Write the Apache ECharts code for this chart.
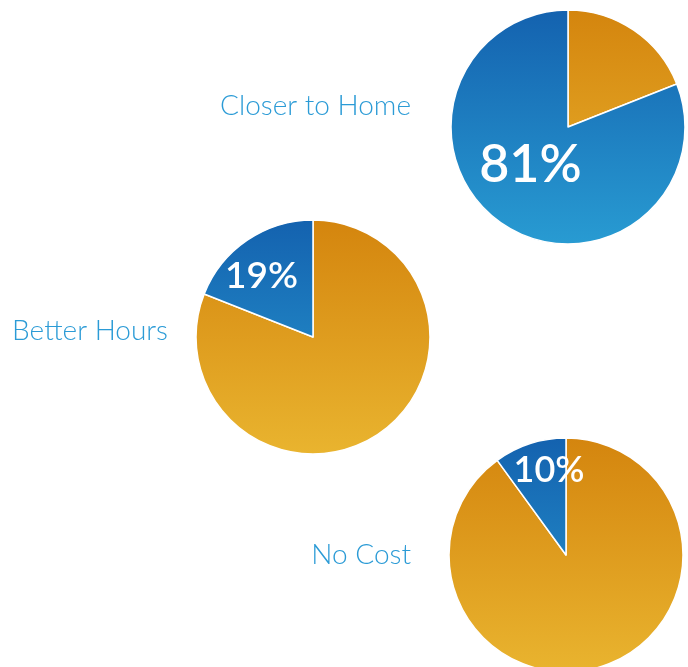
<!DOCTYPE html>
<html>
<head>
<meta charset="utf-8">
<script src="https://cdn.jsdelivr.net/npm/echarts@6/dist/echarts.min.js"></script>
<style>
html,body{margin:0;padding:0;background:#fff;}
#chart{width:688px;height:667px;}
</style>
</head>
<body>
<div id="chart"></div>
<script>
// Data
const categories = ['Closer to Home', 'Better Hours', 'No Cost'];
const bluePercent = [81, 19, 10];
const orangePercent = [19, 81, 90];

// Layout / style (not data)
const centers = [[568, 127], [313, 337], [566, 555]];
const radius = 117;
const labelOffsets = [[-3, -13], [-17, -10], [2, -26]];
const pctFontSizes = [52, 37, 36];
const nameAnchors = [[411, 106], [168, 331], [411, 555]];

function grad(top, bottom, cy) {
  return new echarts.graphic.LinearGradient(0, cy - radius, 0, cy + radius, [
    { offset: 0, color: top },
    { offset: 1, color: bottom }
  ], true);
}

const series = categories.map((name, i) => {
  const cy = centers[i][1];
  const orange = {
    name: 'Other',
    value: orangePercent[i],
    itemStyle: { color: grad('#d4850e', '#e9b42f', cy) },
    label: { show: false }
  };
  const blue = {
    name: name,
    value: bluePercent[i],
    itemStyle: { color: grad('#1462af', '#289bd2', cy) },
    label: {
      show: true,
      position: 'inside',
      formatter: '{c}%',
      offset: labelOffsets[i],
      color: '#ffffff',
      fontFamily: 'Lato',
      fontWeight: 600,
      fontSize: pctFontSizes[i]
    }
  };
  return {
    type: 'pie',
    name: name,
    center: centers[i],
    radius: [0, radius],
    startAngle: 90,
    clockwise: true,
    avoidLabelOverlap: false,
    silent: true,
    labelLine: { show: false },
    itemStyle: { borderColor: '#ffffff', borderWidth: 1.5 },
    data: [orange, blue]
  };
});

const graphics = categories.map((name, i) => ({
  type: 'text',
  x: nameAnchors[i][0],
  y: nameAnchors[i][1],
  style: {
    text: name,
    fill: '#2b9bd6',
    fontFamily: 'Lato',
    fontWeight: 300,
    fontSize: 28,
    align: 'right',
    verticalAlign: 'middle'
  }
}));

const chart = echarts.init(document.getElementById('chart'));
chart.setOption({
  animation: false,
  backgroundColor: '#ffffff',
  series: series,
  graphic: graphics
});
</script>
</body>
</html>
